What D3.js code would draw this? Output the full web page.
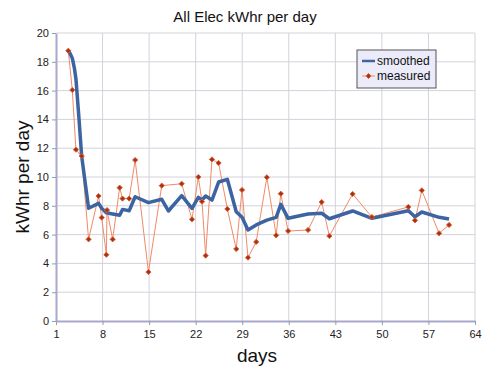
<!DOCTYPE html>
<html>
<head>
<meta charset="utf-8">
<script src="https://cdn.jsdelivr.net/npm/d3@7"></script>
<style>
  body { margin: 0; background: #fff; }
  text { font-family: "Liberation Sans", Arial, sans-serif; }
</style>
</head>
<body>
<div id="chart"></div>
<script>
// measured readings (day, kWhr per day)
const measuredDays = [2.85, 3.45, 4.0, 4.86, 5.9, 7.4, 7.87, 8.57, 8.67, 9.52, 10.57, 11.0, 12.0, 12.9, 14.9, 16.9,
  19.9, 21.45, 22.4, 22.95, 23.5, 24.45, 25.45, 26.76, 28.1, 28.97, 29.87, 31.1, 32.7, 34.1, 34.8, 35.9,
  38.9, 40.95, 42.1, 45.6, 48.5, 53.97, 54.98, 56.0, 58.6, 60.1];
const measuredVals = [18.77, 16.04, 11.9, 11.45, 5.67, 8.68, 7.18, 4.6, 7.7, 5.67, 9.26, 8.5, 8.5, 11.18, 3.4, 9.4,
  9.53, 7.06, 10.0, 8.29, 4.54, 11.22, 10.97, 7.78, 5.0, 9.1, 4.4, 5.49, 9.98, 5.95, 8.84, 6.25,
  6.32, 8.26, 5.9, 8.82, 7.22, 7.92, 6.99, 9.07, 6.09, 6.67];

// smoothed series
const smoothDays = [2.85, 3.1, 3.45, 3.75, 4.0, 4.4, 4.86, 5.9, 7.4, 7.87, 8.57, 9.52, 10.57, 11.0, 12.0, 12.9, 14.9, 16.9,
  17.9, 19.9, 21.45, 22.4, 22.95, 23.5, 24.45, 25.45, 26.76, 28.1, 28.97, 29.87, 31.1, 32.7, 34.1, 34.8, 35.9,
  38.9, 40.95, 42.1, 45.6, 48.5, 53.97, 54.98, 56.0, 58.6, 60.1];
const smoothVals = [18.77, 18.6, 18.25, 17.6, 16.8, 14.4, 11.45, 7.83, 8.17, 7.83, 7.52, 7.43, 7.34, 7.75, 7.66, 8.63, 8.22, 8.45,
  7.64, 8.7, 7.82, 8.59, 8.4, 8.68, 8.4, 9.65, 9.84, 7.59, 7.2, 6.32, 6.67, 7.01, 7.2, 8.1, 7.13,
  7.43, 7.48, 7.1, 7.64, 7.13, 7.66, 7.24, 7.57, 7.2, 7.08];

const xTicks = [1, 8, 15, 22, 29, 36, 43, 50, 57, 64];
const yTicks = [0, 2, 4, 6, 8, 10, 12, 14, 16, 18, 20];

const W = 500, H = 375;
const margin = { top: 33, left: 56, right: 25, bottom: 54 };
const width = W - margin.left - margin.right;
const height = H - margin.top - margin.bottom;

const svg = d3.select('#chart').append('svg')
  .attr('width', W)
  .attr('height', H);

const g = svg.append('g')
  .attr('transform', `translate(${margin.left},${margin.top})`);

const x = d3.scaleLinear().domain([1, 64]).range([0, width]);
const y = d3.scaleLinear().domain([0, 20]).range([height, 0]);

// gridlines
g.append('g').selectAll('line.hg')
  .data(yTicks.slice(1))
  .enter().append('line')
  .attr('x1', 0).attr('x2', width)
  .attr('y1', d => y(d)).attr('y2', d => y(d))
  .attr('stroke', '#d2d2dc').attr('stroke-width', 1);

g.append('g').selectAll('line.vg')
  .data(xTicks.slice(1))
  .enter().append('line')
  .attr('x1', d => x(d)).attr('x2', d => x(d))
  .attr('y1', 0).attr('y2', height)
  .attr('stroke', '#d2d2dc').attr('stroke-width', 1);

// axes
const xAxis = g.append('g')
  .attr('transform', `translate(0,${height})`)
  .call(d3.axisBottom(x).tickValues(xTicks).tickSize(4).tickSizeOuter(0));
const yAxis = g.append('g')
  .call(d3.axisLeft(y).tickValues(yTicks).tickSize(4).tickSizeOuter(0));

[xAxis, yAxis].forEach(a => {
  a.select('.domain').attr('stroke', '#a8a8cc').attr('stroke-width', 2);
  a.selectAll('.tick line').attr('stroke', '#9a9aa8');
  a.selectAll('.tick text')
    .attr('fill', '#222')
    .style('font-size', '11px')
    .style('font-family', '"Liberation Sans", Arial, sans-serif');
});
xAxis.selectAll('.tick text').attr('dy', '0.9em');

const measured = measuredDays.map((d, i) => ({ day: d, val: measuredVals[i] }));
const smoothed = smoothDays.map((d, i) => ({ day: d, val: smoothVals[i] }));

const line = d3.line()
  .x(d => x(d.day))
  .y(d => y(d.val));

// measured line
g.append('path')
  .datum(measured)
  .attr('fill', 'none')
  .attr('stroke', '#f08a68')
  .attr('stroke-width', 1)
  .attr('d', line);

// smoothed line
g.append('path')
  .datum(smoothed)
  .attr('fill', 'none')
  .attr('stroke', '#3d64a2')
  .attr('stroke-width', 3.5)
  .attr('stroke-linejoin', 'round')
  .attr('d', line);

// markers
const diamond = d3.symbol().type(d3.symbolDiamond2 || d3.symbolSquare).size(17);
g.append('g').selectAll('path.pt')
  .data(measured)
  .enter().append('path')
  .attr('transform', d => `translate(${x(d.day)},${y(d.val)})`)
  .attr('d', diamond)
  .attr('fill', '#a83210')
  .attr('stroke', '#d8603a')
  .attr('stroke-width', 1);

// title and labels
svg.append('text')
  .attr('x', 245).attr('y', 22)
  .attr('text-anchor', 'middle')
  .style('font-size', '15px')
  .attr('fill', '#111')
  .text('All Elec kWhr per day');

svg.append('text')
  .attr('x', 257).attr('y', 362)
  .attr('text-anchor', 'middle')
  .style('font-size', '19px')
  .attr('fill', '#111')
  .text('days');

svg.append('text')
  .attr('transform', `translate(29,${margin.top + height / 2}) rotate(-90)`)
  .attr('text-anchor', 'middle')
  .style('font-size', '19px')
  .attr('fill', '#111')
  .text('kWhr per day');

// legend
const lg = svg.append('g').attr('transform', 'translate(357,50)');
lg.append('rect')
  .attr('width', 79).attr('height', 38)
  .attr('fill', '#ebebfa')
  .attr('stroke', '#555').attr('stroke-width', 1);
lg.append('line')
  .attr('x1', 5).attr('x2', 18).attr('y1', 11).attr('y2', 11)
  .attr('stroke', '#3d64a2').attr('stroke-width', 2.5);
lg.append('text').attr('x', 20).attr('y', 15)
  .style('font-size', '12px').attr('fill', '#111').text('smoothed');
lg.append('line')
  .attr('x1', 5).attr('x2', 18).attr('y1', 26).attr('y2', 26)
  .attr('stroke', '#f08a68').attr('stroke-width', 1);
lg.append('path')
  .attr('transform', 'translate(11.5,26)')
  .attr('d', diamond)
  .attr('fill', '#a83210').attr('stroke', '#d8603a').attr('stroke-width', 1);
lg.append('text').attr('x', 20).attr('y', 30)
  .style('font-size', '12px').attr('fill', '#111').text('measured');
</script>
</body>
</html>
